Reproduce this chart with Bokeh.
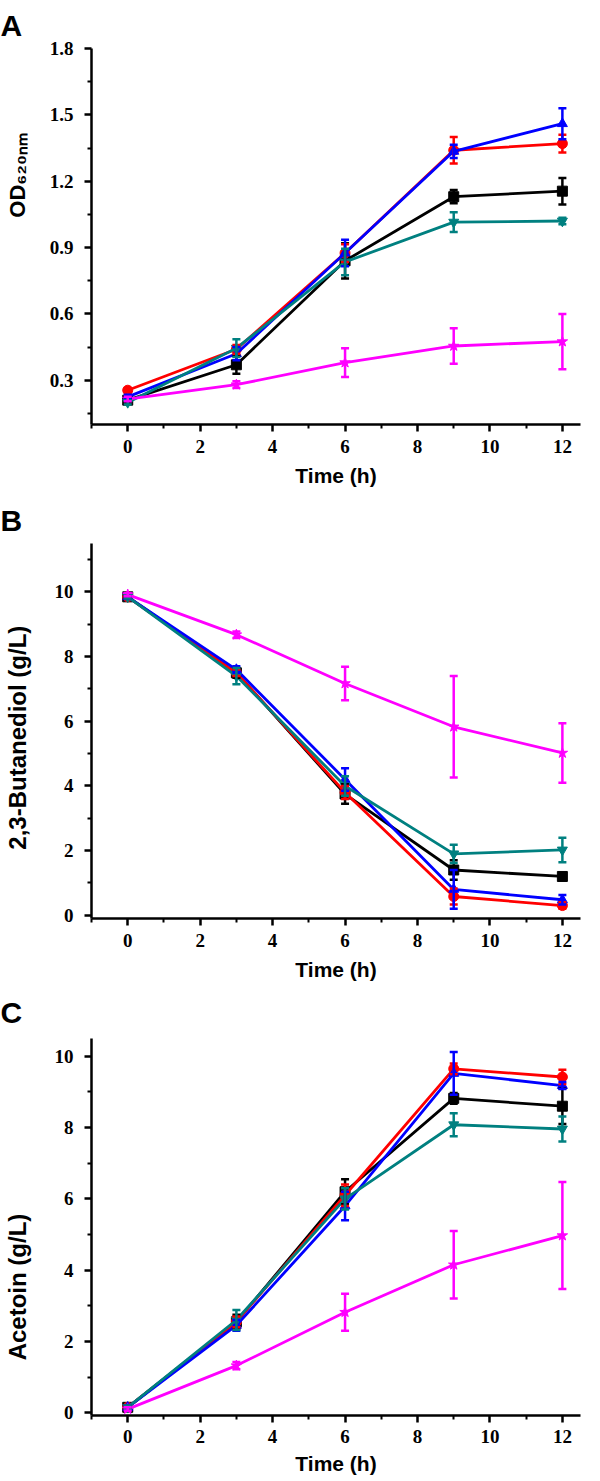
from bokeh.plotting import figure
from bokeh.models import ColumnDataSource, Whisker, TeeHead, Range1d, FixedTicker, PrintfTickFormatter
from bokeh.layouts import column
from bokeh.embed import file_html
from bokeh.resources import INLINE

# ---------------- data ----------------
time_h = [0, 3, 6, 9, 12]
series_names = ["black", "red", "blue", "teal", "magenta"]
series_colors = ["#000000", "#FF0000", "#0000FF", "#008080", "#FF00FF"]
series_markers = ["square", "circle", "triangle", "inverted_triangle", "star"]

# Panel A: OD620nm
od_black = [0.21, 0.37, 0.84, 1.13, 1.155]
od_black_err = [0.01, 0.04, 0.08, 0.03, 0.06]
od_red = [0.255, 0.44, 0.875, 1.34, 1.37]
od_red_err = [0.01, 0.02, 0.04, 0.06, 0.04]
od_blue = [0.225, 0.42, 0.875, 1.335, 1.46]
od_blue_err = [0.01, 0.03, 0.06, 0.03, 0.07]
od_teal = [0.20, 0.445, 0.835, 1.015, 1.02]
od_teal_err = [0.01, 0.04, 0.06, 0.045, 0.015]
od_magenta = [0.215, 0.28, 0.38, 0.455, 0.475]
od_magenta_err = [0.01, 0.015, 0.065, 0.08, 0.125]

# Panel B: 2,3-Butanediol (g/L)
bdo_black = [9.85, 7.5, 3.75, 1.4, 1.2]
bdo_black_err = [0.05, 0.15, 0.3, 0.3, 0.08]
bdo_red = [9.85, 7.5, 3.8, 0.58, 0.3]
bdo_red_err = [0.05, 0.1, 0.2, 0.25, 0.1]
bdo_blue = [9.85, 7.6, 4.2, 0.8, 0.48]
bdo_blue_err = [0.05, 0.1, 0.35, 0.6, 0.15]
bdo_teal = [9.85, 7.4, 4.0, 1.9, 2.02]
bdo_teal_err = [0.05, 0.25, 0.3, 0.28, 0.38]
bdo_magenta = [9.92, 8.68, 7.17, 5.83, 5.02]
bdo_magenta_err = [0.05, 0.1, 0.52, 1.57, 0.92]

# Panel C: Acetoin (g/L)
ac_black = [0.15, 2.55, 6.2, 8.82, 8.6]
ac_black_err = [0.05, 0.2, 0.35, 0.15, 0.5]
ac_red = [0.15, 2.55, 6.1, 9.65, 9.42]
ac_red_err = [0.05, 0.15, 0.3, 0.15, 0.2]
ac_blue = [0.15, 2.45, 5.8, 9.52, 9.18]
ac_blue_err = [0.05, 0.15, 0.4, 0.6, 0.1]
ac_teal = [0.15, 2.6, 6.0, 8.08, 7.96]
ac_teal_err = [0.05, 0.28, 0.3, 0.32, 0.35]
ac_magenta = [0.1, 1.32, 2.82, 4.15, 4.97]
ac_magenta_err = [0.05, 0.1, 0.52, 0.95, 1.5]

x_ticks = [0, 2, 4, 6, 8, 10, 12]
x_minor = [-1, 1, 3, 5, 7, 9, 11]
od_ticks = [0.3, 0.6, 0.9, 1.2, 1.5, 1.8]
od_minor = [0.15, 0.45, 0.75, 1.05, 1.35, 1.65]
conc_ticks = [0, 2, 4, 6, 8, 10]
conc_minor = [1, 3, 5, 7, 9, 11]

NB = "\u00a0"
label_A = NB * 20 + "OD\u2086\u2082\u2080\u2099\u2098"
label_B = "2,3-Butanediol (g/L)" + NB * 2
label_C = "Acetoin (g/L)" + NB * 18

SANS = "Liberation Sans"
SERIF = "Liberation Serif"


def make_panel(vals, errs, yr, yticks, yminor, yfmt, height, top, bottom,
               letter, ylabel, ylabel_size, ylabel_standoff, xlab_standoff, xtick_standoff):
    p = figure(width=600, height=height, output_backend="svg", toolbar_location=None,
               x_range=Range1d(-1, 12.5), y_range=Range1d(*yr),
               min_border_left=89, min_border_right=20,
               min_border_top=top, min_border_bottom=bottom)
    p.outline_line_color = None
    p.grid.visible = False
    p.background_fill_color = "white"
    for ax in (p.xaxis[0], p.yaxis[0]):
        ax.axis_line_width = 2.5
        ax.major_tick_line_width = 2.5
        ax.minor_tick_line_width = 2
        ax.major_tick_out = 7
        ax.major_tick_in = 0
        ax.minor_tick_out = 4
        ax.minor_tick_in = 0
        ax.major_label_text_font = SERIF
        ax.major_label_text_font_style = "bold"
        ax.major_label_text_font_size = "19px"
        ax.major_label_text_color = "black"
        ax.axis_label_text_font = SANS
        ax.axis_label_text_font_style = "bold"
        ax.axis_label_text_color = "black"
    p.xaxis.ticker = FixedTicker(ticks=x_ticks, minor_ticks=x_minor)
    p.yaxis.ticker = FixedTicker(ticks=yticks, minor_ticks=yminor)
    p.yaxis.formatter = PrintfTickFormatter(format=yfmt)
    p.xaxis.major_label_standoff = xtick_standoff
    p.yaxis.major_label_standoff = 11
    p.xaxis.axis_label = "Time (h)"
    p.xaxis.axis_label_text_font_size = "21px"
    p.xaxis.axis_label_standoff = xlab_standoff
    p.yaxis.axis_label = ylabel
    p.yaxis.axis_label_text_font_size = ylabel_size
    p.yaxis.axis_label_standoff = ylabel_standoff

    # panel letter as the figure title, pulled to the left edge
    p.title.text = letter
    p.title.align = "left"
    p.title.offset = -91
    p.title.vertical_align = "top"
    p.title.text_font = SANS
    p.title.text_font_style = "bold"
    p.title.text_font_size = "30px"
    p.title.text_color = "black"
    p.title.standoff = max(top - 38, 0)

    for name, c, m, v, e in zip(series_names, series_colors, series_markers, vals, errs):
        src = ColumnDataSource(dict(x=time_h, y=v,
                                    lo=[a - b for a, b in zip(v, e)],
                                    hi=[a + b for a, b in zip(v, e)]))
        p.line("x", "y", source=src, line_color=c, line_width=2.8)
        p.add_layout(Whisker(base="x", upper="hi", lower="lo", source=src,
                             line_color=c, line_width=2.5, level="glyph",
                             upper_head=TeeHead(size=8, line_color=c, line_width=2.5),
                             lower_head=TeeHead(size=8, line_color=c, line_width=2.5)))
        p.scatter("x", "y", source=src, marker=m, size=10 if m != "star" else 11,
                  fill_color=c, line_color=c)
    return p


pA = make_panel([od_black, od_red, od_blue, od_teal, od_magenta],
                [od_black_err, od_red_err, od_blue_err, od_teal_err, od_magenta_err],
                (0.1, 1.8), od_ticks, od_minor, "%.1f", 496, 48, 72, "A",
                label_A, "22px", 17, 8, 8)
pB = make_panel([bdo_black, bdo_red, bdo_blue, bdo_teal, bdo_magenta],
                [bdo_black_err, bdo_red_err, bdo_blue_err, bdo_teal_err, bdo_magenta_err],
                (-0.1, 11.5), conc_ticks, conc_minor, "%d", 488, 47, 66, "B",
                label_B, "24px", 21, 8, 8)
pC = make_panel([ac_black, ac_red, ac_blue, ac_teal, ac_magenta],
                [ac_black_err, ac_red_err, ac_blue_err, ac_teal_err, ac_magenta_err],
                (-0.08, 10.5), conc_ticks, conc_minor, "%d", 497, 54, 66, "C",
                label_C, "24px", 21, 6, 7)

layout = column(pA, pB, pC, spacing=0)
open("out.html", "w").write(file_html(layout, INLINE))
